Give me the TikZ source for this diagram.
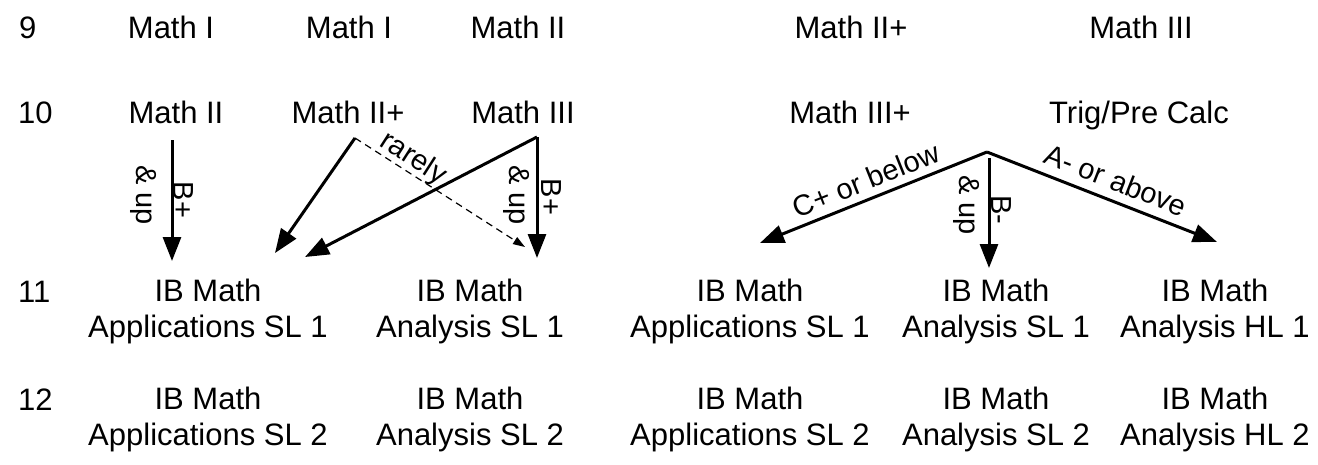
\documentclass[tikz,border=0pt]{standalone}
\usepackage{fontspec}
\setmainfont{Liberation Sans}
\usetikzlibrary{arrows.meta}
\begin{document}
\begin{tikzpicture}[x=1pt,y=-1pt,
  txt/.style={font=\fontsize{31}{36}\selectfont, inner sep=0pt, anchor=base},
  grade/.style={font=\fontsize{31}{36}\selectfont, inner sep=0pt, anchor=base west},
  course/.style={font=\fontsize{31}{36}\selectfont, inner sep=0pt, anchor=north, align=center},
  lab/.style={font=\fontsize{29}{34}\selectfont, inner sep=0pt},
  arr/.style={line width=3pt, -{Triangle[length=24pt,width=18pt]}},
  darr/.style={line width=1.2pt, dash pattern=on 7pt off 5pt, -{Triangle[length=12pt,width=8pt]}}]
\useasboundingbox (0,0) rectangle (1318,464);
% grade labels
\node[grade] (g9)  at (19,38)  {9};
\node[grade] (g10) at (18,123) {10};
\node[grade] (g11) at (18,302) {11};
\node[grade] (g12) at (18,410) {12};
% row 9
\node[txt] (a9) at (171,38) {Math I};
\node[txt] (b9) at (349,38) {Math I};
\node[txt] (c9) at (518,38) {Math II};
\node[txt] (d9) at (851,38) {Math II+};
\node[txt] (e9) at (1141,38) {Math III};
% row 10
\node[txt] (a10) at (176,123) {Math II};
\node[txt] (b10) at (348,123) {Math II+};
\node[txt] (c10) at (523,123) {Math III};
\node[txt] (d10) at (850,123) {Math III+};
\node[txt] (e10) at (1139,123) {Trig/Pre Calc};
% row 11
\node[course] (a11) at (208,279) {IB Math\\Applications SL 1};
\node[course] (b11) at (470,279) {IB Math\\Analysis SL 1};
\node[course] (c11) at (750,279) {IB Math\\Applications SL 1};
\node[course] (d11) at (996,279) {IB Math\\Analysis SL 1};
\node[course] (e11) at (1215,279) {IB Math\\Analysis HL 1};
% row 12
\node[course] (a12) at (208,387) {IB Math\\Applications SL 2};
\node[course] (b12) at (470,387) {IB Math\\Analysis SL 2};
\node[course] (c12) at (750,387) {IB Math\\Applications SL 2};
\node[course] (d12) at (996,387) {IB Math\\Analysis SL 2};
\node[course] (e12) at (1215,387) {IB Math\\Analysis HL 2};
% connector points
\coordinate (p1s) at (172,140);
\coordinate (p1e) at (172,261);
\coordinate (p2s) at (355,138);
\coordinate (p2e) at (275,253);
\coordinate (p3s) at (537,137);
\coordinate (p3e) at (305,257);
\coordinate (p4e) at (537,258);
\coordinate (p5e) at (525,247);
\coordinate (apex) at (987,152);
\coordinate (qL) at (760,243);
\coordinate (qDs) at (989,158);
\coordinate (qD) at (989,268);
\coordinate (qR) at (1217,242);
% arrows
\draw[arr] (p1s) -- (p1e);
\draw[arr] (p2s) -- (p2e);
\draw[arr] (p3s) -- (p3e);
\draw[arr] (p3s) -- (p4e);
\draw[darr] (p2s) -- (p5e);
\draw[arr] (apex) -- (qL);
\draw[arr] (qDs) -- (qD);
\draw[arr] (apex) -- (qR);
% labels
\node[lab, rotate=-90] (l1a) at (183.5,200) {B+};
\node[lab, rotate=-90] (l1b) at (144,195) {\& up};
\node[lab, rotate=-90] (l4a) at (551,197) {B+};
\node[lab, rotate=-90] (l4b) at (517,195) {\& up};
\node[lab, rotate=-90] (lda) at (1001,210) {B-};
\node[lab, rotate=-90] (ldb) at (967,205) {\& up};
\node[lab, rotate=-32.7] (lr) at (413,159) {rarely};
\node[lab, rotate=21.8] (lc) at (866,180) {C+ or below};
\node[lab, rotate=-21.4] (la) at (1116,180) {A- or above};
\end{tikzpicture}
\end{document}
